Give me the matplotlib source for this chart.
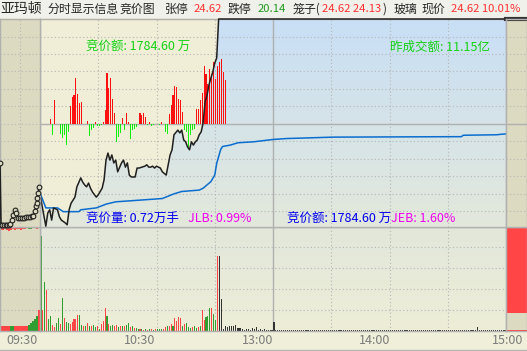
import numpy as np
import matplotlib.pyplot as plt
from matplotlib.colors import LinearSegmentedColormap
from matplotlib.patches import Rectangle

plt.rcParams['font.family'] = ['Noto Sans CJK SC', 'DejaVu Sans']

# ---- data -------------------------------------------------------------
# minutes counted from 09:30 (lunch break removed, 240 = 15:00)
prev_close = 22.38
limit_up = 24.62
limit_down = 20.14

price_min = [0, 1, 3, 4, 5, 6, 7, 9, 10, 11, 13, 14, 15, 16, 18, 19, 21, 22, 23, 24,
             25, 26, 27, 29, 30, 32, 33, 34, 35, 36, 37, 38, 39, 40, 42, 43, 44, 45, 46, 47,
             49, 50, 51, 54, 55, 56, 57, 58, 59, 60, 62, 63, 65, 67, 68, 69, 71, 72, 73, 74,
             75, 76, 77, 78, 79, 80, 81, 82, 83, 84, 85, 86, 87, 88, 89, 90, 91, 92, 240]
price = [20.91, 20.65, 20.20, 20.48, 20.55, 20.33, 20.59, 20.55, 20.40, 20.33,
         20.27, 20.23, 20.55, 20.69, 20.82, 21.04, 21.23, 21.14, 21.08, 21.04,
         21.12, 21.01, 20.93, 20.82, 20.87, 21.01, 21.19, 21.61, 21.76, 21.61,
         21.72, 21.55, 21.61, 21.36, 21.55, 21.61, 21.46, 21.55, 21.29, 21.25,
         21.25, 21.44, 21.44, 21.48, 21.51, 21.46, 21.46, 21.48, 21.44, 21.48,
         21.44, 21.36, 21.29, 21.72, 21.83, 22.15, 22.25, 22.19, 22.25, 22.04,
         22.00, 21.89, 21.83, 22.00, 21.93, 22.00, 22.04, 22.15, 22.21, 22.40,
         22.85, 22.99, 23.21, 23.36, 23.49, 23.68, 23.79, 24.62, 24.62]

avg_min = [0, 3, 9, 12, 20, 21, 29, 34, 39, 46, 63, 69, 73, 82, 84,
           88, 90, 91, 93, 94, 98, 102, 110, 120, 127, 151, 217, 218, 235, 240]
avg = [20.91, 20.59, 20.59, 20.51, 20.51, 20.55, 20.59, 20.67, 20.72, 20.74,
       20.79, 20.89, 20.94, 20.97, 21.01, 21.15, 21.29, 21.54, 21.83, 21.90,
       21.93, 21.98, 22.00, 22.05, 22.07, 22.10, 22.11, 22.14, 22.15, 22.17]

# net buy/sell bars per minute, half panel = 105
net_flow = [0, 0, 0, 0, 0, 5, -11, 24, 0, 0, -10, -14, -11, -21, -8, 18, 27, 29, 46, 30,
            21, 22, 0, 0, 3, -12, -6, -4, 2, -2, -2, -1, 2, 14, 51, 36, 46, 25, 11, -18,
            -13, -9, 6, -6, 11, 2, -15, -6, -5, -3, 0, 11, 9, 11, 7, -1, 2, -2, -1, 0,
            0, -1, 2, 0, -8, -10, 10, 19, 29, 38, 37, 25, 24, 12, -6, -8, -23, -11, -6, -5,
            15, 15, 24, 31, 58, 50, 40, 55, 50, 62, 45, 58, 62, 65, 52, 44]
flow_full = 105

# volume per minute, panel height = 104
vol = [94.7, 21, 48.7, 40.7, 11.7, 15.3, 6.3, 4, 8, 13.3, 7.3, 32.7, 12.7, 8.7, 8, 6.7, 9, 12, 12, 16.3,
       16.3, 5.7, 4.7, 4.7, 8.3, 4.7, 5.3, 6.3, 4, 4.7, 2, 7.3, 10, 23, 14.7, 6.7, 5.3, 6.3, 4.7, 6.3,
       4, 4.7, 4.7, 4.7, 6.3, 8, 3.7, 4.7, 3.3, 3.3, 2.3, 2, 2, 1.5, 2, 1.5, 2, 2, 1.5, 2,
       2, 2, 2, 2, 4, 4.7, 5.3, 7.3, 5.3, 12.7, 10, 14, 12.7, 5.3, 6.7, 8, 4, 3.3, 4, 4.7,
       3, 4, 4.7, 20.7, 10.7, 14, 14.7, 23.3, 23.3, 17.3, 11.3, 74.7, 74.7, 32.3, 2, 5.3, 4, 5.3, 5.3, 4.7,
       6, 3.3, 3.3, 3.3, 2, 1.5, 2, 2, 1.5, 3.3, 2, 4, 1.5, 2, 1.5, 2, 1.5, 1, 1.5, 1,
       9.3, 1, 1, 1, 1, 1, 1, 1, 1, 1, 1, 1, 1, 1, 1, 1, 1, 1, 1, 1,
       1, 1, 1, 1, 1, 1, 1, 1, 1, 1, 1, 1, 1, 1, 1, 1, 1, 1, 1, 1,
       1, 1, 1, 1, 1, 1, 1, 1, 1, 1, 1, 1, 1, 1, 1, 1, 1, 1, 1, 1,
       1, 1, 1, 1, 1, 1, 1, 1, 1, 1, 1, 1, 1, 1, 1, 1, 1, 1, 1, 1,
       1, 1, 1, 1, 1, 1, 1, 1, 1, 1, 1, 1, 1, 1, 1, 1, 1, 1.5, 1, 1,
       1, 1, 1, 1, 1, 4, 1, 1, 1, 1, 1.3, 1, 1.3, 1.3, 1, 1, 1, 1, 1, 1]
# 1 = up (red), -1 = down (green); after 11:02 price sits at limit -> flat
vol_dir = [-1, 1, -1, 1, -1, -1, 1, 1, -1, -1, 1, -1, 1, -1, -1, 1, 1, 1, 1, 1,
           -1, -1, 1, -1, 1, -1, 1, -1, -1, 1, -1, 1, 1, 1, -1, 1, -1, -1, 1, 1,
           -1, 1, -1, 1, -1, -1, 1, -1, 1, -1, -1, 1, -1, 1, -1, 1, -1, 1, -1, 1,
           -1, -1, -1, 1, 1, -1, 1, 1, -1, 1, 1, 1, 1, -1, 1, -1, -1, -1, 1, -1,
           -1, 1, -1, 1, 1, -1, -1, -1, 1, -1, -1, 1]

# call auction 09:15-09:25 (minutes after 09:15)
auc_t = [0.0, 0.25, 0.6, 1.0, 1.4, 1.8, 2.2, 2.6, 3.0, 3.25, 3.75, 4.1, 4.6, 5.0,
         5.5, 6.0, 6.5, 7.0, 7.5, 8.0, 8.3, 8.75, 9.0, 9.2, 9.3, 9.6, 9.75]
auc_price = [21.55, 20.23, 20.23, 20.23, 20.23, 20.23, 20.23, 20.25, 20.33, 20.44,
             20.55, 20.48, 20.37, 20.37, 20.37, 20.37, 20.40, 20.40, 20.40, 20.42,
             20.42, 20.52, 20.62, 20.69, 20.80, 20.90, 21.04]
auc_vol = [5, 5, 5, 5, 5, 5, 5, 5, 5, 5, 5, 5, 5, 5, 6, 8, 10, 12, 15, 21]
auc_vol_dir = [1, 1, 1, 1, 1, -1, -1, 1, 1, 1, 1, 1, 1, 1, -1, -1, -1, -1, -1, 1]
auc_unmatched = [3, 3, 2, 3, 4, 3, 2, 3, 2, 2, 3, 2, 2, 1, 2, 2, 1, 1, 2, 1]
auc_unmatched_dir = [1, 1, 1, 1, 1, 1, 1, 1, 1, 1, 1, 1, 1, 1, -1, -1, 1, 1, 1, 1]

close_price = 24.62
close_unmatched = 86
close_matched = 1.5

title_parts = [("亚玛顿", 'k'), ("分时显示信息", 'k'), ("竞价图", 'k'), ("张停", 'k'),
               ("24.62", 'r'), ("跌停", 'k'), ("20.14", 'g'), ("笼子(", 'k'),
               ("24.62 24.13", 'r'), (")", 'k'), ("玻璃", 'k'), ("现价", 'k'),
               ("24.62 10.01%", 'r')]
time_labels = ["09:30", "10:30", "13:00", "14:00", "15:00"]

# ---- style ------------------------------------------------------------
W, H = 527, 351
KHAKI = '#dcdac0'
YELLOW = '#f0eed6'
GRID = '#b5b5b5'
RED_BAR = '#ff1010'
GREEN_BAR = '#10ee10'
VRED = '#ff4545'
VGREEN = '#2f9d2f'
VBLACK = '#333333'

fig = plt.figure(figsize=(W / 100, H / 100), dpi=100, facecolor='#f0efd9')
fig.add_artist(Rectangle((0, 1 - 18 / H), 1, 18 / H, transform=fig.transFigure,
                         facecolor='#f1f1eb', edgecolor='none'))


def box(x0, y0, x1, y1, z=0):
    ax = fig.add_axes([x0 / W, 1 - y1 / H, (x1 - x0) / W, (y1 - y0) / H])
    ax.set_zorder(z)
    ax.set_xticks([])
    ax.set_yticks([])
    for s in ax.spines.values():
        s.set_color('#b0b0b0')
        s.set_linewidth(1)
    return ax


def gradient(ax, c_bottom, c_top, clip=None):
    cmap = LinearSegmentedColormap.from_list('bg', [c_bottom, c_top])
    x0, x1 = ax.get_xlim()
    y0, y1 = ax.get_ylim()
    im = ax.imshow(np.linspace(0, 1, 256).reshape(-1, 1), extent=(x0, x1, y0, y1),
                   origin='lower', aspect='auto', cmap=cmap, zorder=0)
    if clip is not None:
        im.set_clip_path(clip)
    ax.set_xlim(x0, x1)
    ax.set_ylim(y0, y1)


def hgrid(ax, levels, solid=()):
    for lv in levels:
        if lv in solid:
            ax.axhline(lv, color='#b0b0b0', lw=1, zorder=1)
        else:
            ax.axhline(lv, color=GRID, lw=0.8, ls=(0, (1, 2.2)), zorder=1)


def vgrid(ax, xs, solid=()):
    for x in xs:
        if x in solid:
            ax.axvline(x, color='#b0b0b0', lw=1, zorder=1)
        else:
            ax.axvline(x, color=GRID, lw=0.8, ls=(0, (1, 2.2)), zorder=1)


span = limit_up - limit_down
price_levels = [limit_down + span * i / 12 for i in range(1, 12)]
p_bottom = limit_up - span * 208 / 210   # panel is cut 2px above the limit-down line
vol_levels = [21, 42, 63, 84]

# ---- main price panel ----
axp = box(40, 19, 506, 227, z=3)
axp.set_facecolor(YELLOW)
axp.set_xlim(0, 240)
axp.set_ylim(p_bottom, limit_up)
under = axp.fill(price_min + [240, 0], price + [p_bottom, p_bottom],
                 facecolor='none', edgecolor='none')[0]
gradient(axp, '#e3e8db', '#c8dff6', clip=under)
hgrid(axp, price_levels, solid=(price_levels[5],))
vgrid(axp, [30, 60, 90, 120, 150, 180, 210], solid=(120,))

unit = (limit_up - prev_close) / flow_full
mins = np.arange(len(net_flow)) + 0.5
fv = np.array(net_flow) * unit
axp.bar(mins, fv, bottom=prev_close, width=0.55, linewidth=0,
        color=[RED_BAR if v > 0 else GREEN_BAR for v in net_flow], zorder=2)
axp.plot(avg_min, avg, color='#0a6dcf', lw=1.1, zorder=3)
axp.plot(price_min, price, color='#202020', lw=1.1, zorder=4, clip_on=False)

# ---- auction (left) price panel ----
axl = box(0, 19, 40, 227, z=3)
axl.set_facecolor(KHAKI)
axl.set_xlim(0, 10)
axl.set_ylim(p_bottom, limit_up)
hgrid(axl, price_levels)
vgrid(axl, [5])
axl.plot(auc_t, auc_price, color='#202020', lw=1.2, marker='o', ms=3.4,
         mfc=KHAKI, mec='#202020', mew=0.8, zorder=4, clip_on=False)

# ---- closing auction (right) price panel ----
axr = box(506, 19, 527, 227, z=3)
axr.set_facecolor(KHAKI)
axr.set_xlim(0, 1)
axr.set_ylim(p_bottom, limit_up)
hgrid(axr, price_levels, solid=(price_levels[5],))
axr.plot([0, 1], [close_price, close_price], color='#333333', lw=3, clip_on=False)

# ---- volume panels ----
axv = box(40, 227, 506, 331)
axv.set_xlim(0, 240)
axv.set_ylim(0, 104)
gradient(axv, '#eeeed7', '#e2e7db')
hgrid(axv, vol_levels)
vgrid(axv, [30, 60, 90, 120, 150, 180, 210], solid=(120,))
dirs = vol_dir + [0] * (len(vol) - len(vol_dir))
vcol = [VRED if d > 0 else VGREEN if d < 0 else VBLACK for d in dirs]
axv.bar(np.arange(len(vol)) + 0.5, vol, width=0.55, linewidth=0, color=vcol, zorder=2)

axlv = box(0, 227, 40, 331)
axlv.set_facecolor(KHAKI)
axlv.set_xlim(0, 10)
axlv.set_ylim(0, 104)
hgrid(axlv, vol_levels)
slots = np.arange(len(auc_vol)) * 0.5 + 0.25
axlv.bar(slots, auc_vol, width=0.5, linewidth=0,
         color=[VRED if d > 0 else VGREEN for d in auc_vol_dir], zorder=2)
axlv.bar(slots, [-v for v in auc_unmatched], bottom=104, width=0.5, linewidth=0,
         color=[VRED if d > 0 else VGREEN for d in auc_unmatched_dir], zorder=2)

axrv = box(506, 227, 527, 331)
axrv.set_facecolor(KHAKI)
axrv.set_xlim(0, 1)
axrv.set_ylim(0, 104)
hgrid(axrv, vol_levels)
axrv.bar(0.5, -close_unmatched, bottom=104, width=1, color=VRED, linewidth=0, zorder=2)
axrv.bar(0.5, close_matched, width=1, color=VRED, linewidth=0, zorder=2)

# ---- texts ----
def ftext(x, y, s, color, size=9, **kw):
    fig.text(x / W, 1 - y / H, s, color=color, fontsize=size, va='center', **kw)


tcol = {'k': '#262626', 'r': '#ff3030', 'g': '#1e9a1e'}
title_x = [0, 47, 120, 165, 194, 228, 258, 293, 322, 383, 393, 421, 451]
for (s, c), x in zip(title_parts, title_x):
    if x == 0:
        size = 10
    elif c == 'k':
        size = 8.6
    else:
        size = 8.1
    ftext(x, 9, s, tcol[c], size=size)

ftext(86, 47, "竞价额: 1784.60 万", '#14d214')
ftext(390, 47, "昨成交额: 11.15亿", '#14d214')
ftext(86, 219, "竞价量: 0.72万手", '#0000f0', zorder=5)
ftext(188, 219, "JLB: 0.99%", '#f000f0', zorder=5)
ftext(287, 219, "竞价额: 1784.60 万", '#0000f0', zorder=5)
ftext(391, 219, "JEB: 1.60%", '#f000f0', zorder=5)

label_right = [38, 155, 273, 390, 523]
for s, x in zip(time_labels, label_right):
    ftext(x, 340, s, '#7c7c7c', size=9, ha='right')

fig.add_artist(plt.Line2D([0, 1], [1 - 349.5 / H] * 2, transform=fig.transFigure,
                          color='#b8b8b8', lw=1))

fig.savefig('out.png', dpi=100, facecolor=fig.get_facecolor())
